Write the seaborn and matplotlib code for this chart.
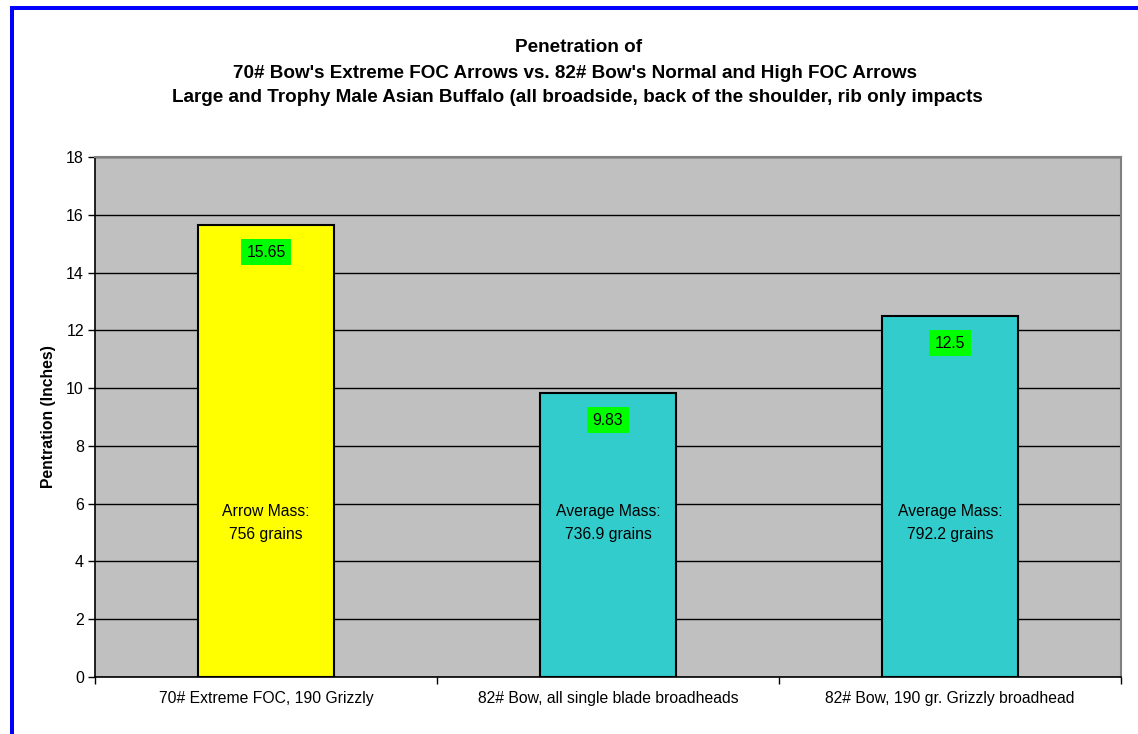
import numpy as np
import pandas as pd
import matplotlib
matplotlib.use('Agg')
import matplotlib.pyplot as plt
import matplotlib.patches as mpatches
import seaborn as sns

# Data
categories = ['70# Extreme FOC, 190 Grizzly',
              '82# Bow, all single blade broadheads',
              '82# Bow, 190 gr. Grizzly broadhead']
penetration = [15.65, 9.83, 12.5]
value_labels = ['15.65', '9.83', '12.5']
mass_labels = ['Arrow Mass:\n756 grains',
               'Average Mass:\n736.9 grains',
               'Average Mass:\n792.2 grains']
bar_colors = ['#FFFF00', '#33CCCC', '#33CCCC']

df = pd.DataFrame({'category': categories, 'penetration': penetration})

sns.set_style('white')
plt.rcParams['font.family'] = ['Liberation Sans', 'DejaVu Sans']
plt.rcParams['text.color'] = 'black'
plt.rcParams['xtick.color'] = 'black'
plt.rcParams['ytick.color'] = 'black'
plt.rcParams['axes.labelcolor'] = 'black'

fig = plt.figure(figsize=(11.38, 7.34), dpi=100)
ax = fig.add_axes([95 / 1138, 57 / 734, 1026 / 1138, 520 / 734])
ax.set_facecolor('#C0C0C0')

sns.barplot(data=df, x='category', y='penetration', hue='category',
            palette=bar_colors, saturation=1, width=0.4, edgecolor='black',
            linewidth=1.5, legend=False, ax=ax, zorder=3)

ax.set_ylim(0, 18)
ax.set_xlim(-0.5, 2.5)
ax.set_yticks(np.arange(0, 19, 2))
ax.yaxis.grid(True, color='black', linewidth=1, zorder=0)
ax.set_axisbelow(True)

# category boundary ticks, labels centred between them
ax.set_xticks([-0.5, 0.5, 1.5, 2.5])
ax.set_xticklabels([])
ax.set_xticks(range(len(categories)), minor=True)
ax.set_xticklabels(categories, minor=True, fontsize=11.3)
ax.tick_params(axis='x', which='minor', bottom=True, length=0, pad=10)
ax.tick_params(axis='x', which='major', bottom=True, length=5, width=1, direction='out')
ax.tick_params(axis='y', left=True, length=5, width=1, direction='out', labelsize=11.5, pad=3)

ax.set_xlabel('')
ax.set_ylabel('Pentration (Inches)', fontsize=11.3, fontweight='bold')
ax.yaxis.set_label_coords(-0.038, 0.5)

for name in ['left', 'bottom']:
    ax.spines[name].set_color('black')
    ax.spines[name].set_linewidth(1.2)
for name in ['top', 'right']:
    ax.spines[name].set_color('#808080')
    ax.spines[name].set_linewidth(1.5)

for i, (v, lab, mass) in enumerate(zip(penetration, value_labels, mass_labels)):
    ax.text(i, v - 0.95, lab, ha='center', va='center', fontsize=11.3,
            bbox=dict(boxstyle='square,pad=0.35', facecolor='#00FF00', edgecolor='none'),
            zorder=5)
    ax.text(i, 5.33, mass, ha='center', va='center', fontsize=11.3,
            linespacing=1.65, zorder=5)

title_kw = dict(ha='center', va='center', fontsize=13.6, fontweight='bold')
fig.text(0.508, 1 - 47 / 734, 'Penetration of', **title_kw)
fig.text(0.505, 1 - 73 / 734, "70# Bow's Extreme FOC Arrows vs. 82# Bow's Normal and High FOC Arrows", **title_kw)
fig.text(0.507, 1 - 97 / 734, 'Large and Trophy Male Asian Buffalo (all broadside, back of the shoulder, rib only impacts', **title_kw)

# blue frame on top and left
fig.add_artist(mpatches.Rectangle((10 / 1138, 1 - 10 / 734), 1, 4 / 734,
                                  transform=fig.transFigure, color='#0000FF', lw=0))
fig.add_artist(mpatches.Rectangle((10 / 1138, 0), 4 / 1138, 1 - 6 / 734,
                                  transform=fig.transFigure, color='#0000FF', lw=0))

fig.savefig('out.png', dpi=100)
